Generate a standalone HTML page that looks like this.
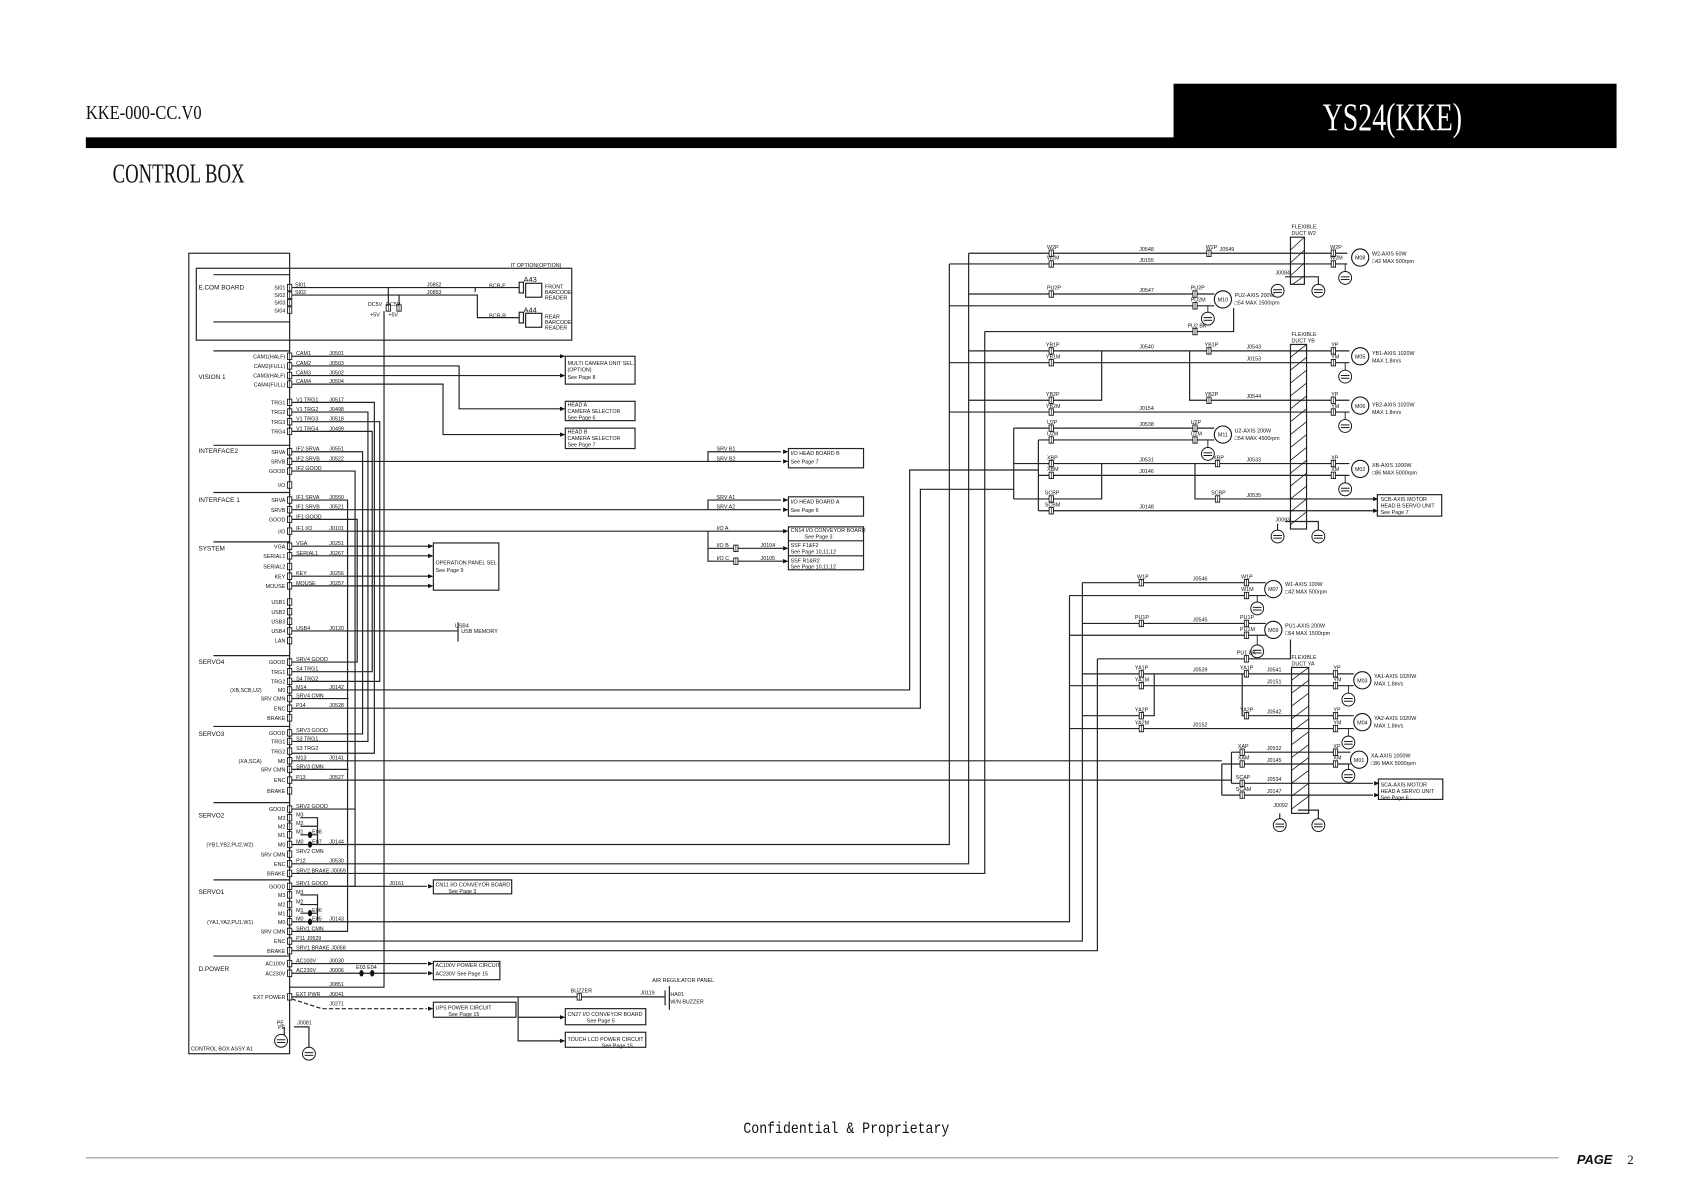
<!DOCTYPE html>
<html><head><meta charset="utf-8"><style>
html,body{margin:0;padding:0;background:#fff}
svg{display:block}
text{font-family:"Liberation Sans",sans-serif;fill:#111}
.s{font-size:5px}
.m{font-size:6px}
</style></head><body>
<svg width="1682" height="1190" viewBox="0 0 1568 1109" preserveAspectRatio="none" xmlns="http://www.w3.org/2000/svg">
<defs>
<g id="c"><rect x="-2" y="-3" width="4" height="6" fill="#fff" stroke="#111" stroke-width="0.8"/><line x1="0" y1="-3" x2="0" y2="3" stroke="#111" stroke-width="0.6"/></g>
<g id="g"><circle r="6" fill="#fff" stroke="#111" stroke-width="0.9"/><line x1="-4" y1="-1" x2="4" y2="-1" stroke="#111" stroke-width="0.9"/><line x1="-4" y1="1.5" x2="4" y2="1.5" stroke="#111" stroke-width="0.9"/></g>
</defs>
<rect width="1568" height="1109" fill="#fff"/>
<!-- header -->
<text x="80" y="111" style="font-family:'Liberation Serif',serif;font-size:19px" textLength="108" lengthAdjust="spacingAndGlyphs">KKE-000-CC.V0</text>
<rect x="1094" y="78" width="413" height="52" fill="#000"/>
<rect x="80" y="128" width="1427" height="10" fill="#000"/>
<text x="1233" y="121" style="font-family:'Liberation Serif',serif;font-size:36px;fill:#fff" textLength="130" lengthAdjust="spacingAndGlyphs">YS24(KKE)</text>
<text x="105" y="170" style="font-family:'Liberation Serif',serif;font-size:26px" textLength="123" lengthAdjust="spacingAndGlyphs">CONTROL BOX</text>
<!-- footer -->
<text x="693" y="1056" style="font-family:'Liberation Mono',monospace;font-size:15px" textLength="192" lengthAdjust="spacingAndGlyphs">Confidential &amp; Proprietary</text>
<line x1="80" y1="1079" x2="1453" y2="1079" stroke="#999" stroke-width="1"/>
<text x="1470" y="1085" style="font-size:12px;font-style:italic;font-weight:bold">PAGE</text>
<text x="1517" y="1085" style="font-family:'Liberation Serif',serif;font-size:12px">2</text>

<g stroke="#222" stroke-width="1.1" fill="none">
<!-- control box -->
<rect x="176" y="236" width="94" height="746"/>
<rect x="183" y="250" width="350" height="67"/>
<line x1="199" y1="256" x2="270" y2="256"/><line x1="199" y1="300" x2="270" y2="300"/>
<line x1="199" y1="327" x2="270" y2="327"/><line x1="199" y1="415" x2="270" y2="415"/>
<line x1="199" y1="459" x2="270" y2="459"/><line x1="199" y1="505" x2="270" y2="505"/>
<line x1="199" y1="611" x2="270" y2="611"/><line x1="199" y1="677" x2="270" y2="677"/>
<line x1="199" y1="748" x2="270" y2="748"/><line x1="199" y1="820" x2="270" y2="820"/>
<line x1="199" y1="891" x2="270" y2="891"/>
<!-- ecom wires -->
<path d="M270 268H484M443 268V272M270 275H445V296H484"/>
<path d="M362 268V287M372 275V287M358 290V920H270"/>
<rect x="484" y="263" width="4" height="10"/><rect x="490" y="264" width="15" height="13"/>
<rect x="484" y="291" width="4" height="10"/><rect x="490" y="292" width="15" height="13"/>
<!-- vision -->
<path d="M270 332H522M270 341H428V381H522M270 350H522M270 358H413V405H522"/>
<rect x="527" y="332" width="65" height="26"/><rect x="527" y="374" width="65" height="18"/><rect x="527" y="399" width="65" height="19"/>
<!-- TRG bus -->
<path d="M270 375H349V702H270M270 384H343V691H270M270 393H354V635H270M270 402H347V626H270"/>
<path d="M270 421H338V684H270M270 439H331V754H270M270 484H333V617H270M270 466H324V868H270M270 651H325M270 717H325"/>
<line x1="331" y1="826" x2="331" y2="754"/><line x1="270" y1="826" x2="331" y2="826"/>
<!-- interface -->
<path d="M270 430H728M660 430V421H728M270 475H728M660 475V466H728M270 495H730M660 495V523H730M660 511H730"/>
<rect x="735" y="418" width="70" height="18"/><rect x="735" y="463" width="70" height="18"/>
<rect x="735" y="491" width="70" height="40"/><line x1="735" y1="504" x2="805" y2="504"/><line x1="735" y1="518" x2="805" y2="518"/>
<!-- system -->
<path d="M270 509H400M270 518H400M270 537H400M270 546H400M270 588H427M427 580V598"/>
<rect x="404" y="506" width="61" height="44"/>
<!-- servo long lines -->
<path d="M270 643H848V438H968M270 660H858V456H945"/>
<path d="M270 709H1139M270 727H1148"/>
<path d="M270 787H885V246M270 805H903V236M270 814H918V309"/>
<path d="M270 859H997V555M270 877H1009V543M270 886H1023V614"/>
<path d="M280 762H296V787M280 770H296M280 778H296M280 834H296V859M280 843H296M280 851H296"/>
<!-- servo1 good -->
<path d="M270 826H398"/><rect x="404" y="820" width="73" height="13"/>
<!-- power -->
<path d="M270 898H398M270 907H398"/><rect x="404" y="896" width="62" height="17"/>
<path d="M270 929H538M542 929H620M483 929V948H522M483 948V970H522"/>
<path d="M272 931L300 940H398" stroke-dasharray="4,2"/>
<rect x="404" y="934" width="77" height="14"/><rect x="527" y="940" width="75" height="15"/><rect x="527" y="962" width="75" height="14"/>
<path d="M620 923V937M624 919V941"/>
<path d="M265 957V966M274 957H288V976"/>
<!-- top right group -->
<path d="M903 236H1256M885 246H1256"/>
<path d="M903 274H1132M885 285H1132M918 309H1150V287"/>
<path d="M903 327H1258M885 338H1258M903 373H1027V327M1109 327V373H1258M885 384H1258"/>
<path d="M945 399H1132M968 410H1132M945 432H1258M968 443H1258M945 465H1027V432M1114 432V465H1280M968 476H1280"/>
<path d="M945 399V465M968 410V476"/>
<rect x="1284" y="461" width="60" height="20"/>
<rect x="1203" y="221" width="13" height="44"/><rect x="1203" y="321" width="15" height="172"/>
<path d="M1191 265V271M1198 258H1229V270M1191 488V499M1198 486H1229V499"/>
<!-- bottom group -->
<path d="M1009 543H1180M997 555H1180M1009 581H1180M997 592H1180M1023 614H1203V596"/>
<path d="M1009 628H1262M997 639H1262M1009 667H1076V628M1158 628V667H1262M997 679H1262"/>
<path d="M1148 701H1259M1139 712H1259M1148 730H1280M1139 741H1280M1148 701V730M1139 712V741"/>
<rect x="1285" y="726" width="60" height="19"/>
<rect x="1204" y="622" width="16" height="136"/>
<path d="M1193 758V767M1210 755H1229V767"/>
</g>
<!-- hatching -->
<g stroke="#111" stroke-width="0.7">
<path d="M1203 233L1216 221M1203 245L1216 233M1203 257L1216 245M1205 265L1216 257"/>
<path d="M1203 333L1218 321M1203 345L1218 333M1203 357L1218 345M1203 369L1218 357M1203 381L1218 369M1203 393L1218 381M1203 405L1218 393M1203 417L1218 405M1203 429L1218 417M1203 441L1218 429M1203 453L1218 441M1203 465L1218 453M1203 477L1218 465M1203 489L1218 477"/>
<path d="M1204 634L1220 622M1204 646L1220 634M1204 658L1220 646M1204 670L1220 658M1204 682L1220 670M1204 694L1220 682M1204 706L1220 694M1204 718L1220 706M1204 730L1220 718M1204 742L1220 730M1204 754L1220 742"/>
</g>
<!-- arrows -->
<g fill="#111">
<path d="M527 332l-5-2v4zM527 350l-5-2v4zM527 381l-5-2v4zM527 405l-5-2v4z"/>
<path d="M735 421l-5-2v4zM735 430l-5-2v4zM735 466l-5-2v4zM735 475l-5-2v4zM735 495l-5-2v4zM735 511l-5-2v4zM735 523l-5-2v4z"/>
<path d="M404 509l-5-2v4zM404 518l-5-2v4zM404 537l-5-2v4zM404 546l-5-2v4zM404 826l-5-2v4zM404 898l-5-2v4zM404 907l-5-2v4zM404 940l-5-2v4zM527 948l-5-2v4zM527 970l-5-2v4z"/>
<path d="M1285 465l-5-2v4zM1285 476l-5-2v4zM1286 730l-5-2v4zM1286 741l-5-2v4z"/>
<ellipse cx="289" cy="778" rx="2" ry="3"/><ellipse cx="289" cy="787" rx="2" ry="3"/>
<ellipse cx="289" cy="851" rx="2" ry="3"/><ellipse cx="289" cy="859" rx="2" ry="3"/>
<ellipse cx="337" cy="907" rx="2" ry="3"/><ellipse cx="347" cy="907" rx="2" ry="3"/>
</g>
<!-- left connectors -->
<g>
<use href="#c" x="270" y="268"/><use href="#c" x="270" y="275"/><use href="#c" x="270" y="282"/><use href="#c" x="270" y="289"/>
<use href="#c" x="270" y="332"/><use href="#c" x="270" y="341"/><use href="#c" x="270" y="350"/><use href="#c" x="270" y="358"/>
<use href="#c" x="270" y="375"/><use href="#c" x="270" y="384"/><use href="#c" x="270" y="393"/><use href="#c" x="270" y="402"/>
<use href="#c" x="270" y="421"/><use href="#c" x="270" y="430"/><use href="#c" x="270" y="439"/><use href="#c" x="270" y="452"/>
<use href="#c" x="270" y="466"/><use href="#c" x="270" y="475"/><use href="#c" x="270" y="484"/><use href="#c" x="270" y="495"/>
<use href="#c" x="270" y="509"/><use href="#c" x="270" y="518"/><use href="#c" x="270" y="528"/><use href="#c" x="270" y="537"/><use href="#c" x="270" y="546"/>
<use href="#c" x="270" y="561"/><use href="#c" x="270" y="570"/><use href="#c" x="270" y="579"/><use href="#c" x="270" y="588"/><use href="#c" x="270" y="597"/>
<use href="#c" x="270" y="617"/><use href="#c" x="270" y="626"/><use href="#c" x="270" y="635"/><use href="#c" x="270" y="643"/><use href="#c" x="270" y="651"/><use href="#c" x="270" y="660"/><use href="#c" x="270" y="669"/>
<use href="#c" x="270" y="683"/><use href="#c" x="270" y="691"/><use href="#c" x="270" y="700"/><use href="#c" x="270" y="709"/><use href="#c" x="270" y="717"/><use href="#c" x="270" y="727"/><use href="#c" x="270" y="737"/>
<use href="#c" x="270" y="754"/><use href="#c" x="270" y="762"/><use href="#c" x="270" y="770"/><use href="#c" x="270" y="778"/><use href="#c" x="270" y="787"/><use href="#c" x="270" y="796"/><use href="#c" x="270" y="805"/><use href="#c" x="270" y="814"/>
<use href="#c" x="270" y="826"/><use href="#c" x="270" y="834"/><use href="#c" x="270" y="843"/><use href="#c" x="270" y="851"/><use href="#c" x="270" y="859"/><use href="#c" x="270" y="868"/><use href="#c" x="270" y="877"/><use href="#c" x="270" y="886"/>
<use href="#c" x="270" y="898"/><use href="#c" x="270" y="907"/><use href="#c" x="270" y="929"/>
<use href="#c" x="362" y="287"/><use href="#c" x="372" y="287"/>
<use href="#c" x="686" y="511"/><use href="#c" x="686" y="523"/><use href="#c" x="540" y="929"/>
<use href="#c" x="980" y="236"/><use href="#c" x="980" y="246"/><use href="#c" x="1127" y="236"/><use href="#c" x="1243" y="236"/><use href="#c" x="1243" y="246"/>
<use href="#c" x="980" y="274"/><use href="#c" x="1114" y="274"/><use href="#c" x="1114" y="285"/><use href="#c" x="1114" y="309"/>
<use href="#c" x="980" y="327"/><use href="#c" x="980" y="338"/><use href="#c" x="1127" y="327"/><use href="#c" x="1243" y="327"/><use href="#c" x="1243" y="338"/>
<use href="#c" x="980" y="373"/><use href="#c" x="980" y="384"/><use href="#c" x="1127" y="373"/><use href="#c" x="1243" y="373"/><use href="#c" x="1243" y="384"/>
<use href="#c" x="980" y="399"/><use href="#c" x="980" y="410"/><use href="#c" x="1114" y="399"/><use href="#c" x="1114" y="410"/>
<use href="#c" x="980" y="432"/><use href="#c" x="980" y="443"/><use href="#c" x="1135" y="432"/><use href="#c" x="1243" y="432"/><use href="#c" x="1243" y="443"/>
<use href="#c" x="980" y="465"/><use href="#c" x="980" y="476"/><use href="#c" x="1135" y="465"/>
<use href="#c" x="1064" y="543"/><use href="#c" x="1162" y="543"/><use href="#c" x="1162" y="555"/>
<use href="#c" x="1064" y="581"/><use href="#c" x="1162" y="581"/><use href="#c" x="1162" y="592"/><use href="#c" x="1162" y="614"/>
<use href="#c" x="1064" y="628"/><use href="#c" x="1064" y="639"/><use href="#c" x="1162" y="628"/><use href="#c" x="1245" y="628"/><use href="#c" x="1245" y="639"/>
<use href="#c" x="1064" y="667"/><use href="#c" x="1064" y="679"/><use href="#c" x="1162" y="667"/><use href="#c" x="1245" y="667"/><use href="#c" x="1245" y="679"/>
<use href="#c" x="1158" y="701"/><use href="#c" x="1158" y="712"/><use href="#c" x="1245" y="701"/><use href="#c" x="1245" y="712"/>
<use href="#c" x="1158" y="730"/><use href="#c" x="1158" y="741"/>
</g>
<!-- grounds -->
<g>
<use href="#g" x="1191" y="271"/><use href="#g" x="1229" y="271"/><use href="#g" x="1254" y="259"/>
<use href="#g" x="1126" y="297"/><use href="#g" x="1254" y="351"/><use href="#g" x="1254" y="397"/><use href="#g" x="1126" y="423"/><use href="#g" x="1254" y="456"/>
<use href="#g" x="1191" y="500"/><use href="#g" x="1229" y="500"/>
<use href="#g" x="1172" y="567"/><use href="#g" x="1172" y="607"/><use href="#g" x="1257" y="652"/><use href="#g" x="1257" y="692"/><use href="#g" x="1257" y="723"/>
<use href="#g" x="1193" y="769"/><use href="#g" x="1229" y="769"/>
<use href="#g" x="262" y="970"/><use href="#g" x="288" y="982"/>
</g>
<g stroke="#111" stroke-width="0.8"><path d="M1254 246V253M1126 285V291M1254 338V345M1254 384V391M1126 410V417M1254 443V450M1172 555V561M1172 592V601M1257 639V646M1257 679V686M1257 712V717"/></g>
<!-- motors -->
<g fill="#fff" stroke="#111" stroke-width="1">
<circle cx="1268" cy="240" r="8"/><circle cx="1140" cy="279" r="8"/><circle cx="1268" cy="332" r="8"/><circle cx="1268" cy="378" r="8"/>
<circle cx="1140" cy="405" r="8"/><circle cx="1268" cy="437" r="8"/><circle cx="1187" cy="549" r="8"/><circle cx="1187" cy="587" r="8"/>
<circle cx="1270" cy="634" r="8"/><circle cx="1270" cy="673" r="8"/><circle cx="1267" cy="708" r="8"/>
</g>
<g class="s" text-anchor="middle">
<text x="1268" y="242">M08</text><text x="1140" y="281">M10</text><text x="1268" y="334">M05</text><text x="1268" y="380">M06</text>
<text x="1140" y="407">M11</text><text x="1268" y="439">M02</text><text x="1187" y="551">M07</text><text x="1187" y="589">M09</text>
<text x="1270" y="636">M03</text><text x="1270" y="675">M04</text><text x="1267" y="710">M01</text>
</g>
<g class="s">
<text x="1279" y="238">W2-AXIS 60W</text><text x="1279" y="245">□42 MAX 500rpm</text>
<text x="1151" y="277">PU2-AXIS 200W</text><text x="1151" y="284">□54 MAX 1500rpm</text>
<text x="1279" y="331">YB1-AXIS 1020W</text><text x="1279" y="338">MAX 1.8m/s</text>
<text x="1279" y="379">YB2-AXIS 1020W</text><text x="1279" y="386">MAX 1.8m/s</text>
<text x="1151" y="403">U2-AXIS 200W</text><text x="1151" y="410">□54 MAX 4500rpm</text>
<text x="1279" y="435">XB-AXIS 1000W</text><text x="1279" y="442">□86 MAX 5000rpm</text>
<text x="1287" y="467">SCB-AXIS MOTOR</text><text x="1287" y="473">HEAD B SERVO UNIT</text><text x="1287" y="479">See Page 7</text>
<text x="1198" y="546">W1-AXIS 100W</text><text x="1198" y="553">□42 MAX 500rpm</text>
<text x="1198" y="585">PU1-AXIS 200W</text><text x="1198" y="592">□54 MAX 1500rpm</text>
<text x="1281" y="632">YA1-AXIS 1020W</text><text x="1281" y="639">MAX 1.8m/s</text>
<text x="1281" y="671">YA2-AXIS 1020W</text><text x="1281" y="678">MAX 1.8m/s</text>
<text x="1278" y="706">XA-AXIS 1000W</text><text x="1278" y="713">□86 MAX 5000rpm</text>
<text x="1287" y="733">SCA-AXIS MOTOR</text><text x="1287" y="739">HEAD A SERVO UNIT</text><text x="1287" y="745">See Page 6</text>
<text x="1204" y="213">FLEXIBLE</text><text x="1204" y="219">DUCT W2</text>
<text x="1204" y="313">FLEXIBLE</text><text x="1204" y="319">DUCT YB</text>
<text x="1204" y="614">FLEXIBLE</text><text x="1204" y="620">DUCT YA</text>
<text x="1189" y="256">J0084</text><text x="1189" y="486">J0093</text><text x="1187" y="752">J0092</text>
<text x="976" y="232">W2P</text><text x="976" y="242">W2M</text><text x="1062" y="234">J0548</text><text x="1124" y="232">W2P</text><text x="1137" y="234">J0549</text><text x="1062" y="244">J0155</text><text x="1240" y="232">W2P</text><text x="1240" y="242">W2M</text>
<text x="976" y="270">PU2P</text><text x="1062" y="272">J0547</text><text x="1110" y="270">PU2P</text><text x="1110" y="281">PU2M</text><text x="1107" y="305">PU2 BK</text>
<text x="975" y="323">YB1P</text><text x="975" y="334">YB1M</text><text x="1062" y="325">J0540</text><text x="1123" y="323">YB1P</text><text x="1162" y="325">J0543</text><text x="1162" y="336">J0153</text><text x="1241" y="323">YP</text><text x="1241" y="334">YM</text>
<text x="975" y="369">YB2P</text><text x="975" y="380">YB2M</text><text x="1062" y="382">J0154</text><text x="1123" y="369">YB2P</text><text x="1162" y="371">J0544</text><text x="1241" y="369">YP</text><text x="1241" y="380">YM</text>
<text x="976" y="395">U2P</text><text x="976" y="406">U2M</text><text x="1062" y="397">J0538</text><text x="1110" y="395">U2P</text><text x="1110" y="406">U2M</text>
<text x="976" y="428">XBP</text><text x="976" y="439">XBM</text><text x="1062" y="430">J0531</text><text x="1131" y="428">XBP</text><text x="1162" y="430">J0533</text><text x="1062" y="441">J0146</text><text x="1241" y="428">XP</text><text x="1241" y="439">XM</text>
<text x="974" y="461">SCBP</text><text x="974" y="472">SCBM</text><text x="1129" y="461">SCBP</text><text x="1162" y="463">J0535</text><text x="1062" y="474">J0148</text>
<text x="1060" y="539">W1P</text><text x="1112" y="541">J0546</text><text x="1157" y="539">W1P</text><text x="1157" y="551">W1M</text>
<text x="1058" y="577">PU1P</text><text x="1112" y="579">J0545</text><text x="1156" y="577">PU1P</text><text x="1156" y="588">PU1M</text><text x="1153" y="610">PU1 BK</text>
<text x="1058" y="624">YA1P</text><text x="1058" y="635">YA1M</text><text x="1112" y="626">J0539</text><text x="1156" y="624">YA1P</text><text x="1181" y="626">J0541</text><text x="1181" y="637">J0151</text><text x="1243" y="624">YP</text><text x="1243" y="635">YM</text>
<text x="1058" y="663">YA2P</text><text x="1058" y="675">YA2M</text><text x="1112" y="677">J0152</text><text x="1156" y="663">YA2P</text><text x="1181" y="665">J0542</text><text x="1243" y="663">YP</text><text x="1243" y="675">YM</text>
<text x="1154" y="697">XAP</text><text x="1154" y="708">XAM</text><text x="1181" y="699">J0532</text><text x="1181" y="710">J0145</text><text x="1243" y="697">XP</text><text x="1243" y="708">XM</text>
<text x="1152" y="726">SCAP</text><text x="1152" y="737">SCAM</text><text x="1181" y="728">J0534</text><text x="1181" y="739">J0147</text>
</g>
<g class="m">
<text x="185" y="270">E.COM BOARD</text><text x="185" y="353">VISION 1</text><text x="185" y="422">INTERFACE2</text><text x="185" y="468">INTERFACE 1</text>
<text x="185" y="513">SYSTEM</text><text x="185" y="619">SERVO4</text><text x="185" y="686">SERVO3</text><text x="185" y="762">SERVO2</text>
<text x="185" y="833">SERVO1</text><text x="185" y="905">D.POWER</text>
</g>
<g class="s" text-anchor="end">
<text x="266" y="270">SI01</text><text x="266" y="277">SI02</text><text x="266" y="284">SI03</text><text x="266" y="291">SI04</text>
<text x="266" y="334">CAM1(HALF)</text><text x="266" y="343">CAM2(FULL)</text><text x="266" y="352">CAM3(HALF)</text><text x="266" y="360">CAM4(FULL)</text>
<text x="266" y="377">TRG1</text><text x="266" y="386">TRG2</text><text x="266" y="395">TRG3</text><text x="266" y="404">TRG4</text>
<text x="266" y="423">SRVA</text><text x="266" y="432">SRVB</text><text x="266" y="441">GOOD</text><text x="266" y="454">I/O</text>
<text x="266" y="468">SRVA</text><text x="266" y="477">SRVB</text><text x="266" y="486">GOOD</text><text x="266" y="497">I/O</text>
<text x="266" y="511">VGA</text><text x="266" y="520">SERIAL1</text><text x="266" y="530">SERIAL2</text><text x="266" y="539">KEY</text><text x="266" y="548">MOUSE</text>
<text x="266" y="563">USB1</text><text x="266" y="572">USB2</text><text x="266" y="581">USB3</text><text x="266" y="590">USB4</text><text x="266" y="599">LAN</text>
<text x="266" y="619">GOOD</text><text x="266" y="628">TRG1</text><text x="266" y="637">TRG2</text><text x="266" y="645">M0</text><text x="266" y="653">SRV CMN</text><text x="266" y="662">ENC</text><text x="266" y="671">BRAKE</text>
<text x="266" y="685">GOOD</text><text x="266" y="693">TRG1</text><text x="266" y="702">TRG2</text><text x="266" y="711">M0</text><text x="266" y="719">SRV CMN</text><text x="266" y="729">ENC</text><text x="266" y="739">BRAKE</text>
<text x="266" y="756">GOOD</text><text x="266" y="764">M3</text><text x="266" y="772">M2</text><text x="266" y="780">M1</text><text x="266" y="789">M0</text><text x="266" y="798">SRV CMN</text><text x="266" y="807">ENC</text><text x="266" y="816">BRAKE</text>
<text x="266" y="828">GOOD</text><text x="266" y="836">M3</text><text x="266" y="845">M2</text><text x="266" y="853">M1</text><text x="266" y="861">M0</text><text x="266" y="870">SRV CMN</text><text x="266" y="879">ENC</text><text x="266" y="888">BRAKE</text>
<text x="266" y="900">AC100V</text><text x="266" y="909">AC230V</text><text x="266" y="931">EXT POWER</text><text x="266" y="959">PE</text>
<text x="244" y="645">(XB,SCB,U2)</text><text x="244" y="711">(XA,SCA)</text><text x="236" y="789">(YB1,YB2,PU2,W2)</text><text x="236" y="861">(YA1,YA2,PU1,W1)</text>
</g>
<g class="s">
<text x="178" y="979">CONTROL BOX ASSY  A1</text>
<text x="476" y="249">IT OPTION(OPTION)</text>
<text x="275" y="267">SI01</text><text x="275" y="274">SI02</text><text x="398" y="267">J0852</text><text x="398" y="274">J0853</text>
<text x="343" y="285">DC5V</text><text x="360" y="285">DC5V</text><text x="345" y="295">+5V</text><text x="362" y="295">+5V</text>
<text x="456" y="268">BCR-F</text><text x="456" y="296">BCR-R</text><text x="488" y="263" style="font-size:7px">A43</text><text x="488" y="291" style="font-size:7px">A44</text>
<text x="508" y="269">FRONT</text><text x="508" y="274">BARCODE</text><text x="508" y="279">READER</text>
<text x="508" y="297">REAR</text><text x="508" y="302">BARCODE</text><text x="508" y="307">READER</text>
<text x="276" y="331">CAM1</text><text x="307" y="331">J0501</text><text x="276" y="340">CAM2</text><text x="307" y="340">J0503</text>
<text x="276" y="349">CAM3</text><text x="307" y="349">J0502</text><text x="276" y="357">CAM4</text><text x="307" y="357">J0504</text>
<text x="529" y="340">MULTI CAMERA UNIT SEL.</text><text x="529" y="346">(OPTION)</text><text x="529" y="353">See Page 8</text>
<text x="529" y="379">HEAD A</text><text x="529" y="385">CAMERA SELECTOR</text><text x="529" y="391">See Page 6</text>
<text x="529" y="404">HEAD B</text><text x="529" y="410">CAMERA SELECTOR</text><text x="529" y="416">See Page 7</text>
<text x="276" y="374">V1 TRG1</text><text x="307" y="374">J0517</text><text x="276" y="383">V1 TRG2</text><text x="307" y="383">J0498</text>
<text x="276" y="392">V1 TRG3</text><text x="307" y="392">J0518</text><text x="276" y="401">V1 TRG4</text><text x="307" y="401">J0499</text>
<text x="276" y="420">IF2 SRVA</text><text x="307" y="420">J0551</text><text x="276" y="429">IF2 SRVB</text><text x="307" y="429">J0522</text><text x="276" y="438">IF2 GOOD</text>
<text x="276" y="465">IF1 SRVA</text><text x="307" y="465">J0550</text><text x="276" y="474">IF1 SRVB</text><text x="307" y="474">J0521</text><text x="276" y="483">IF1 GOOD</text>
<text x="276" y="494">IF1 I/O</text><text x="307" y="494">J0101</text>
<text x="668" y="420">SRV B1</text><text x="668" y="429">SRV B2</text><text x="668" y="465">SRV A1</text><text x="668" y="474">SRV A2</text>
<text x="668" y="494">I/O A</text><text x="668" y="510">I/O B</text><text x="668" y="522">I/O C</text><text x="709" y="510">J0104</text><text x="709" y="522">J0105</text>
<text x="737" y="424">I/O HEAD BOARD B</text><text x="737" y="432">See Page 7</text>
<text x="737" y="469">I/O HEAD BOARD A</text><text x="737" y="477">See Page 6</text>
<text x="737" y="496">CN14 I/O CONVEYOR BOARD</text><text x="750" y="502">See Page 3</text>
<text x="737" y="510">SSF F1&amp;F2</text><text x="737" y="516">See Page 10,11,12</text>
<text x="737" y="524">SSF R1&amp;R2</text><text x="737" y="530">See Page 10,11,12</text>
<text x="276" y="508">VGA</text><text x="307" y="508">J0251</text><text x="276" y="517">SERIAL1</text><text x="307" y="517">J0267</text>
<text x="276" y="536">KEY</text><text x="307" y="536">J0256</text><text x="276" y="545">MOUSE</text><text x="307" y="545">J0257</text>
<text x="406" y="526">OPERATION PANEL SEL</text><text x="406" y="533">See Page 9</text>
<text x="276" y="587">USB4</text><text x="307" y="587">J0120</text><text x="424" y="585">USB4</text><text x="430" y="590">USB MEMORY</text>
<text x="276" y="616">SRV4 GOOD</text><text x="276" y="625">S4 TRG1</text><text x="276" y="634">S4 TRG2</text><text x="276" y="642">M14</text><text x="307" y="642">J0142</text><text x="276" y="650">SRV4 CMN</text><text x="276" y="659">P14</text><text x="307" y="659">J0528</text>
<text x="276" y="682">SRV3 GOOD</text><text x="276" y="690">S3 TRG1</text><text x="276" y="699">S3 TRG2</text><text x="276" y="708">M13</text><text x="307" y="708">J0141</text><text x="276" y="716">SRV3 CMN</text><text x="276" y="726">P13</text><text x="307" y="726">J0527</text>
<text x="276" y="753">SRV2 GOOD</text><text x="276" y="761">M3</text><text x="276" y="769">M2</text><text x="276" y="777">M1</text><text x="291" y="777">E08</text><text x="276" y="786">M0</text><text x="291" y="786">E07</text><text x="307" y="786">J0144</text>
<text x="276" y="795">SRV2 CMN</text><text x="276" y="804">P12</text><text x="307" y="804">J0530</text><text x="276" y="813">SRV2 BRAKE J0059</text>
<text x="276" y="825">SRV1 GOOD</text><text x="363" y="825">J0161</text><text x="406" y="826">CN11 I/O CONVEYOR BOARD</text><text x="418" y="832">See Page 3</text>
<text x="276" y="833">M3</text><text x="276" y="842">M2</text><text x="276" y="850">M1</text><text x="291" y="850">E06</text><text x="276" y="858">M0</text><text x="291" y="858">E05</text><text x="307" y="858">J0143</text>
<text x="276" y="867">SRV1 CMN</text><text x="276" y="876">P11 J0529</text><text x="276" y="885">SRV1 BRAKE J0058</text>
<text x="276" y="897">AC100V</text><text x="307" y="897">J0030</text><text x="276" y="906">AC230V</text><text x="307" y="906">J0006</text><text x="332" y="903">E03 E04</text>
<text x="406" y="901">AC100V POWER CIRCUIT</text><text x="406" y="909">AC230V See Page 15</text>
<text x="307" y="919">J0851</text><text x="276" y="928">EXT PWR</text><text x="307" y="928">J0041</text><text x="307" y="937">J0271</text>
<text x="406" y="941">UPS  POWER CIRCUIT</text><text x="418" y="947">See Page 15</text>
<text x="529" y="947">CN27  I/O CONVEYOR BOARD</text><text x="547" y="953">See Page 5</text>
<text x="529" y="970">TOUCH LCD  POWER CIRCUIT</text><text x="561" y="976">See Page 15</text>
<text x="532" y="925">BUZZER</text><text x="597" y="927">J0119</text><text x="608" y="915">AIR REGULATOR PANEL</text><text x="625" y="928">HA01</text><text x="625" y="935">W/N BUZZER</text>
<text x="258" y="955">PE</text><text x="277" y="955">J0081</text>
</g>
</svg>
</body></html>
